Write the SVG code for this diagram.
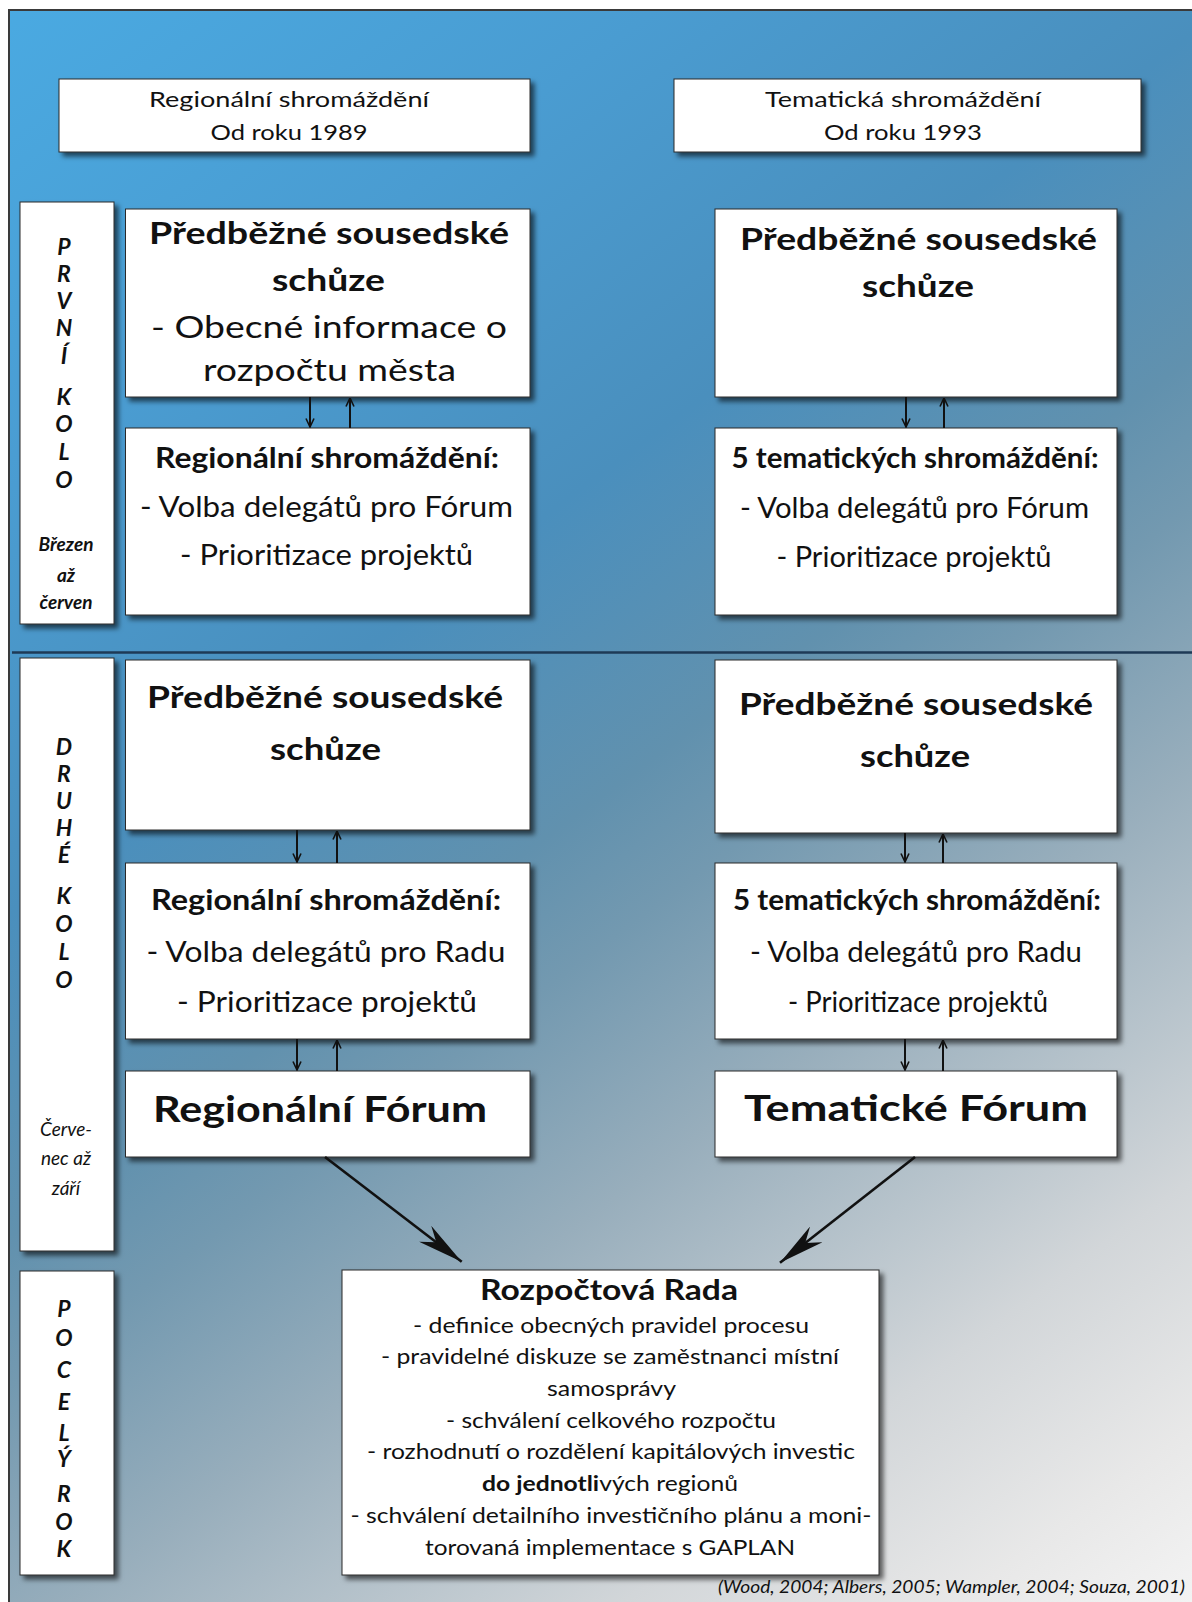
<svg xmlns="http://www.w3.org/2000/svg" width="1192" height="1602" viewBox="0 0 1192 1602">
<defs>
<linearGradient id="bg" gradientUnits="userSpaceOnUse" x1="0" y1="0" x2="1192" y2="1602">
<stop offset="0" stop-color="#4aaae2"/>
<stop offset="0.2" stop-color="#4a9cd1"/>
<stop offset="0.37" stop-color="#4a8fbd"/>
<stop offset="0.5" stop-color="#6191ae"/>
<stop offset="0.56" stop-color="#7399b0"/>
<stop offset="0.665" stop-color="#98aebc"/>
<stop offset="0.83" stop-color="#d2d6d9"/>
<stop offset="0.93" stop-color="#e8e8e8"/>
<stop offset="1" stop-color="#f3f3f3"/>
</linearGradient>
<filter id="sh" x="-10%" y="-10%" width="130%" height="130%">
<feDropShadow dx="4" dy="4" stdDeviation="2.5" flood-color="#000" flood-opacity="0.6"/>
</filter>
<marker id="sa" viewBox="0 0 10 10" refX="9.5" refY="5" markerWidth="10" markerHeight="10" markerUnits="userSpaceOnUse" orient="auto">
<path d="M1,1 L9.5,5 L1,9" fill="none" stroke="#111" stroke-width="1.6"/>
</marker>
<marker id="big" viewBox="0 0 46 20" refX="46" refY="10" markerWidth="46" markerHeight="20" markerUnits="userSpaceOnUse" orient="auto">
<path d="M0,0 L46,10 L0,20 L14,10 Z" fill="#111"/>
</marker>
<style>
.box{fill:#fff;stroke:#2b2b2b;stroke-width:1;filter:url(#sh)}
.t{font-family:Lato,"Open Sans","Liberation Sans",sans-serif;fill:#111;text-anchor:middle}
.b{font-weight:700}
.i{font-style:italic}
.lab{font-family:Lato,"Open Sans","Liberation Sans",sans-serif;fill:#111;text-anchor:middle;font-weight:700;font-style:italic;font-size:23px}
.h{font-size:22px}
.t31{font-size:31px;font-weight:700}
.t30{font-size:30px}
.t28{font-size:28px;font-weight:700}
.t29{font-size:29px}
.t37{font-size:37px;font-weight:700}
.c{font-size:21px}
.m{font-size:19px}
.ar{fill:none;stroke:#111;stroke-width:2;marker-end:url(#sa)}
.dg{fill:none;stroke:#111;stroke-width:2.6;marker-end:url(#big)}
</style>
</defs>

<rect x="9" y="10" width="1183" height="1592" fill="url(#bg)"/>
<path d="M9,1602 V10 H1192" fill="none" stroke="#3a3a3a" stroke-width="2"/>
<line x1="12" y1="652.5" x2="1192" y2="652.5" stroke="#1e3a56" stroke-width="2.5"/>

<g id="n-hdr-reg">
<rect class="box" x="59" y="79" width="471" height="73"/>
<text class="t h" x="289" y="107" textLength="280" lengthAdjust="spacingAndGlyphs">Regionální shromáždění</text>
<text class="t h" x="289" y="140" textLength="157" lengthAdjust="spacingAndGlyphs">Od roku 1989</text>
</g>
<g id="n-hdr-tem">
<rect class="box" x="674" y="79" width="467" height="73"/>
<text class="t h" x="903" y="107" textLength="276" lengthAdjust="spacingAndGlyphs">Tematická shromáždění</text>
<text class="t h" x="903" y="140" textLength="158" lengthAdjust="spacingAndGlyphs">Od roku 1993</text>
</g>

<g id="n-lab1">
<rect class="box" x="20" y="202" width="94" height="422"/>
<text class="lab" x="64" y="255">P</text>
<text class="lab" x="64" y="282">R</text>
<text class="lab" x="64" y="309">V</text>
<text class="lab" x="64" y="336">N</text>
<text class="lab" x="64" y="364">Í</text>
<text class="lab" x="64" y="405">K</text>
<text class="lab" x="64" y="432">O</text>
<text class="lab" x="64" y="460">L</text>
<text class="lab" x="64" y="488">O</text>
<text class="t b i m" x="66" y="551">Březen</text>
<text class="t b i m" x="66" y="582">až</text>
<text class="t b i m" x="66" y="609">červen</text>
</g>
<g id="n-lab2">
<rect class="box" x="20" y="658" width="94" height="593"/>
<text class="lab" x="64" y="755">D</text>
<text class="lab" x="64" y="782">R</text>
<text class="lab" x="64" y="809">U</text>
<text class="lab" x="64" y="836">H</text>
<text class="lab" x="64" y="863">É</text>
<text class="lab" x="64" y="904">K</text>
<text class="lab" x="64" y="932">O</text>
<text class="lab" x="64" y="960">L</text>
<text class="lab" x="64" y="988">O</text>
<text class="t i m" x="66" y="1136">Červe-</text>
<text class="t i m" x="66" y="1165">nec až</text>
<text class="t i m" x="66" y="1195">září</text>
</g>
<g id="n-lab3">
<rect class="box" x="20" y="1271" width="94" height="304"/>
<text class="lab" x="64" y="1317">P</text>
<text class="lab" x="64" y="1346">O</text>
<text class="lab" x="64" y="1378">C</text>
<text class="lab" x="64" y="1410">E</text>
<text class="lab" x="64" y="1441">L</text>
<text class="lab" x="64" y="1467">Ý</text>
<text class="lab" x="64" y="1502">R</text>
<text class="lab" x="64" y="1530">O</text>
<text class="lab" x="64" y="1557">K</text>
</g>

<g id="n-a1">
<rect class="box" x="125.5" y="209" width="404.5" height="188"/>
<text class="t t31" x="329" y="244" textLength="360" lengthAdjust="spacingAndGlyphs">Předběžné sousedské</text>
<text class="t t31" x="328.5" y="291" textLength="113" lengthAdjust="spacingAndGlyphs">schůze</text>
<text class="t t30" x="329" y="338" textLength="356" lengthAdjust="spacingAndGlyphs">- Obecné informace o</text>
<text class="t t30" x="329.5" y="381" textLength="253" lengthAdjust="spacingAndGlyphs">rozpočtu města</text>
</g>
<g id="n-b1">
<rect class="box" x="715" y="209" width="402" height="188"/>
<text class="t t31" x="918.5" y="250" textLength="357" lengthAdjust="spacingAndGlyphs">Předběžné sousedské</text>
<text class="t t31" x="918" y="297" textLength="112" lengthAdjust="spacingAndGlyphs">schůze</text>
</g>
<g id="n-a2">
<rect class="box" x="125.5" y="428" width="404.5" height="187"/>
<text class="t t28" x="327" y="468" textLength="344" lengthAdjust="spacingAndGlyphs">Regionální shromáždění:</text>
<text class="t t29" x="326.5" y="517" textLength="373" lengthAdjust="spacingAndGlyphs">- Volba delegátů pro Fórum</text>
<text class="t t29" x="326.5" y="565" textLength="293" lengthAdjust="spacingAndGlyphs">- Prioritizace projektů</text>
</g>
<g id="n-b2">
<rect class="box" x="715" y="428" width="402" height="187"/>
<text class="t t28" x="915" y="468" textLength="367" lengthAdjust="spacingAndGlyphs">5 tematických shromáždění:</text>
<text class="t t29" x="914.5" y="518" textLength="349" lengthAdjust="spacingAndGlyphs">- Volba delegátů pro Fórum</text>
<text class="t t29" x="914" y="567" textLength="275" lengthAdjust="spacingAndGlyphs">- Prioritizace projektů</text>
</g>
<g id="n-a3">
<rect class="box" x="125.5" y="660" width="404.5" height="170"/>
<text class="t t31" x="325" y="708" textLength="356" lengthAdjust="spacingAndGlyphs">Předběžné sousedské</text>
<text class="t t31" x="325.5" y="760" textLength="111" lengthAdjust="spacingAndGlyphs">schůze</text>
</g>
<g id="n-b3">
<rect class="box" x="715" y="660" width="402" height="173"/>
<text class="t t31" x="916" y="715" textLength="354" lengthAdjust="spacingAndGlyphs">Předběžné sousedské</text>
<text class="t t31" x="915" y="767" textLength="110" lengthAdjust="spacingAndGlyphs">schůze</text>
</g>
<g id="n-a4">
<rect class="box" x="125.5" y="863" width="404.5" height="176"/>
<text class="t t28" x="326" y="910" textLength="350" lengthAdjust="spacingAndGlyphs">Regionální shromáždění:</text>
<text class="t t29" x="326" y="962" textLength="359" lengthAdjust="spacingAndGlyphs">- Volba delegátů pro Radu</text>
<text class="t t29" x="327" y="1012" textLength="300" lengthAdjust="spacingAndGlyphs">- Prioritizace projektů</text>
</g>
<g id="n-b4">
<rect class="box" x="715" y="863" width="402" height="176"/>
<text class="t t28" x="917" y="910" textLength="368" lengthAdjust="spacingAndGlyphs">5 tematických shromáždění:</text>
<text class="t t29" x="916" y="962" textLength="332" lengthAdjust="spacingAndGlyphs">- Volba delegátů pro Radu</text>
<text class="t t29" x="918" y="1012" textLength="260" lengthAdjust="spacingAndGlyphs">- Prioritizace projektů</text>
</g>
<g id="n-a5">
<rect class="box" x="125.5" y="1071" width="404.5" height="86"/>
<text class="t t37" x="320" y="1122" textLength="334" lengthAdjust="spacingAndGlyphs">Regionální Fórum</text>
</g>
<g id="n-b5">
<rect class="box" x="715" y="1071" width="402" height="86"/>
<text class="t t37" x="916" y="1121" textLength="344" lengthAdjust="spacingAndGlyphs">Tematické Fórum</text>
</g>
<g id="n-rada">
<rect class="box" x="342" y="1270" width="537" height="305"/>
<text class="t t28" x="609" y="1300" textLength="258" lengthAdjust="spacingAndGlyphs">Rozpočtová Rada</text>
<text class="t c" x="611" y="1333" textLength="396" lengthAdjust="spacingAndGlyphs">- definice obecných pravidel procesu</text>
<text class="t c" x="610" y="1364" textLength="458" lengthAdjust="spacingAndGlyphs">- pravidelné diskuze se zaměstnanci místní</text>
<text class="t c" x="611.5" y="1396" textLength="129" lengthAdjust="spacingAndGlyphs">samosprávy</text>
<text class="t c" x="611" y="1428" textLength="330" lengthAdjust="spacingAndGlyphs">- schválení celkového rozpočtu</text>
<text class="t c" x="611" y="1459" textLength="488" lengthAdjust="spacingAndGlyphs">- rozhodnutí o rozdělení kapitálových investic</text>
<text class="t c" x="610" y="1491" textLength="256" lengthAdjust="spacingAndGlyphs"><tspan font-weight="700">do jednotli</tspan>vých regionů</text>
<text class="t c" x="611" y="1523" textLength="521" lengthAdjust="spacingAndGlyphs">- schválení detailního investičního plánu a moni-</text>
<text class="t c" x="610" y="1555" textLength="370" lengthAdjust="spacingAndGlyphs">torovaná implementace s GAPLAN</text>
</g>

<g id="connectors">
<line class="ar" x1="310" y1="397" x2="310" y2="427"/>
<line class="ar" x1="350" y1="428" x2="350" y2="398"/>
<line class="ar" x1="906" y1="397" x2="906" y2="427"/>
<line class="ar" x1="944" y1="428" x2="944" y2="398"/>
<line class="ar" x1="297" y1="830" x2="297" y2="862"/>
<line class="ar" x1="337" y1="863" x2="337" y2="831"/>
<line class="ar" x1="905" y1="833" x2="905" y2="862"/>
<line class="ar" x1="943" y1="863" x2="943" y2="834"/>
<line class="ar" x1="297" y1="1039" x2="297" y2="1070"/>
<line class="ar" x1="337" y1="1071" x2="337" y2="1040"/>
<line class="ar" x1="905" y1="1039" x2="905" y2="1070"/>
<line class="ar" x1="943" y1="1071" x2="943" y2="1040"/>
<line class="dg" x1="325" y1="1157" x2="461.7" y2="1261.7"/>
<line class="dg" x1="915" y1="1157" x2="780" y2="1262.7"/>
</g>

<text class="t i" x="1185" y="1593" font-size="18" style="text-anchor:end" textLength="467" lengthAdjust="spacingAndGlyphs">(Wood, 2004; Albers, 2005; Wampler, 2004; Souza, 2001)</text>
</svg>
